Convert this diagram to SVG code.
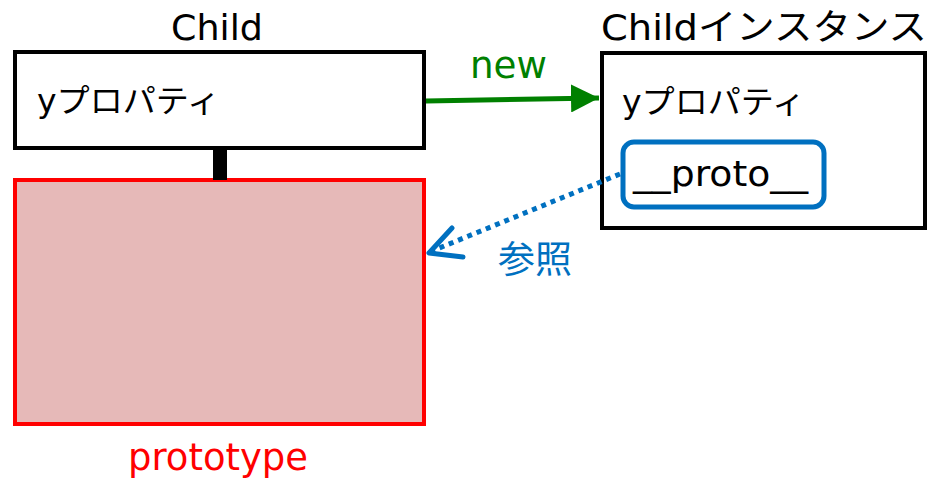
<svg xmlns="http://www.w3.org/2000/svg" width="935" height="480" viewBox="0 0 935 480">
  <defs>
    <style>
      text { font-family: "DejaVu Sans", "Noto Sans CJK JP", sans-serif; }
      .box { fill: #ffffff; stroke: #000000; stroke-width: 4; }
      .title { font-size: 36px; fill: #000000; }
      .prop { font-size: 32px; fill: #000000; }
    </style>
    <marker id="arrowGreen" markerUnits="userSpaceOnUse" markerWidth="30" markerHeight="28" refX="28" refY="14" orient="auto">
      <path d="M0,0 L28,14 L0,28 Z" fill="#008000"/>
    </marker>
  </defs>

  <!-- Child constructor -->
  <g id="child">
    <text class="title" x="171" y="40" textLength="92" lengthAdjust="spacingAndGlyphs">Child</text>
    <rect class="box" x="15" y="52" width="409" height="96"/>
    <text class="prop" x="37" y="112" textLength="183" lengthAdjust="spacingAndGlyphs">yプロパティ</text>
  </g>

  <!-- prototype object -->
  <g id="prototype">
    <rect x="15" y="180" width="409" height="244" fill="#E6B9B8" stroke="#FF0000" stroke-width="4"/>
    <text x="128" y="470" font-size="37" fill="#FF0000" textLength="180" lengthAdjust="spacingAndGlyphs">prototype</text>
  </g>

  <!-- Child instance -->
  <g id="instance">
    <text class="title" x="601" y="40" textLength="326" lengthAdjust="spacingAndGlyphs">Childインスタンス</text>
    <rect class="box" x="602" y="53" width="323" height="175"/>
    <text class="prop" x="622" y="113" textLength="183" lengthAdjust="spacingAndGlyphs">yプロパティ</text>
    <g id="proto-slot">
      <rect x="623" y="142" width="201" height="65" rx="11" fill="#ffffff" stroke="#0070C0" stroke-width="5"/>
      <text x="633" y="186" font-size="36" fill="#000000" textLength="175" lengthAdjust="spacingAndGlyphs">__proto__</text>
    </g>
  </g>

  <!-- connectors -->
  <g id="connectors">
    <rect x="213" y="150" width="14" height="30" fill="#000000"/>
    <line x1="426" y1="101" x2="599" y2="98" stroke="#008000" stroke-width="5" marker-end="url(#arrowGreen)"/>
    <text x="470" y="78" font-size="37" fill="#008000" textLength="77" lengthAdjust="spacingAndGlyphs">new</text>
    <line x1="620" y1="174" x2="432" y2="251" stroke="#0070C0" stroke-width="5" stroke-dasharray="5 5"/>
    <polyline points="452,228 429,253 463,257" fill="none" stroke="#0070C0" stroke-width="5" stroke-linecap="round" stroke-linejoin="round"/>
    <text x="498" y="273" font-size="37" fill="#0070C0" textLength="74" lengthAdjust="spacingAndGlyphs">参照</text>
  </g>
</svg>
